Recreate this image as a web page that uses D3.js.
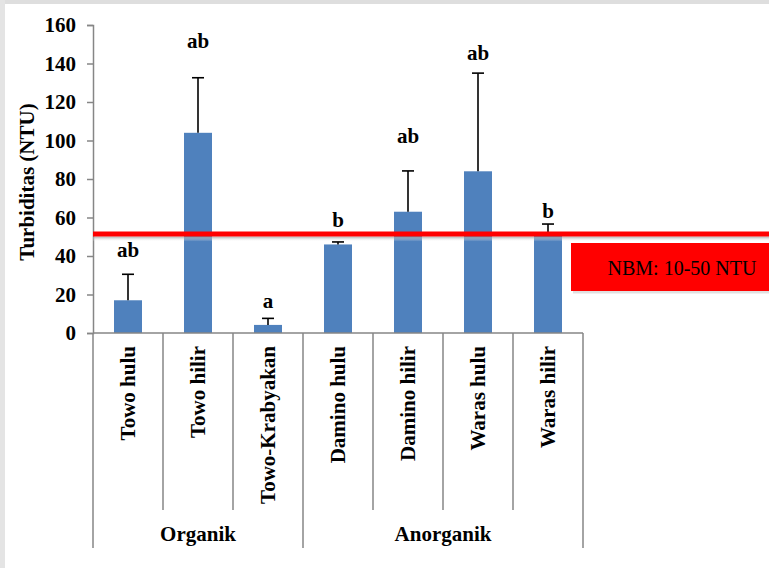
<!DOCTYPE html>
<html>
<head>
<meta charset="utf-8">
<script src="https://cdn.jsdelivr.net/npm/d3@7"></script>
<style>
  html, body { margin: 0; padding: 0; background: #fff; }
  svg { display: block; }
  text { font-family: "Liberation Serif", "Times New Roman", serif; }
</style>
</head>
<body>
<svg id="chart" width="769" height="568"></svg>
<script>
// Stations, grouped by farming type
const categories = ["Towo hulu", "Towo hilir", "Towo-Krabyakan", "Damino hulu", "Damino hilir", "Waras hulu", "Waras hilir"];
const groups = ["Organik", "Organik", "Organik", "Anorganik", "Anorganik", "Anorganik", "Anorganik"];
// Mean turbidity (NTU) and upper error (mean + SD)
const means = [17, 104, 4.2, 46, 63, 84, 52];
const errTops = [30.5, 132.6, 7.6, 47.3, 84.2, 135, 56.6];
// Significance letters and the level (NTU) at which each one sits
const letters = ["ab", "ab", "a", "b", "ab", "ab", "b"];
const letterLevel = [39.5, 148, 13, 55, 98.5, 142, 59.7];
const yTicks = [0, 20, 40, 60, 80, 100, 120, 140, 160];
// Quality standard line
const standardLevel = 51.4;
const standardLabel = "NBM: 10-50 NTU";

const svg = d3.select("#chart");
const axisColor = "#868686";
const barColor = "#4F81BD";
const serif = "Liberation Serif, Times New Roman, serif";

// faint background edges
svg.append("rect").attr("x", 0).attr("y", 0).attr("width", 769).attr("height", 4).attr("fill", "#dedede");
svg.append("rect").attr("x", 0).attr("y", 0).attr("width", 5).attr("height", 568).attr("fill", "#e4e4e4");

const plotLeft = 93, plotRight = 583, plotTop = 25, plotBottom = 333;
const y = d3.scaleLinear().domain([0, 160]).range([plotBottom, plotTop]);
const x = d3.scaleBand().domain(categories).range([plotLeft, plotRight]).paddingInner(0.6).paddingOuter(0.3);
const step = x.step();

// Y axis
const yAxis = svg.append("g")
  .attr("transform", `translate(${plotLeft},0)`)
  .call(d3.axisLeft(y).tickValues(yTicks).tickSize(6).tickPadding(11).tickFormat(d3.format("d")));
yAxis.attr("font-family", serif);
yAxis.select(".domain").attr("stroke", axisColor).attr("stroke-width", 1.5);
yAxis.selectAll(".tick line").attr("stroke", axisColor).attr("stroke-width", 1.5);
yAxis.selectAll(".tick text")
  .attr("font-size", 21).attr("font-weight", "bold").attr("fill", "#000");

svg.append("text")
  .attr("transform", "translate(27,182) rotate(-90)")
  .attr("text-anchor", "middle").attr("dy", "0.35em")
  .attr("font-family", serif)
  .attr("font-size", 21).attr("font-weight", "bold")
  .text("Turbiditas (NTU)");

// Bars
svg.append("g").selectAll("rect").data(categories).join("rect")
  .attr("x", d => x(d))
  .attr("width", x.bandwidth())
  .attr("y", (d, i) => y(means[i]))
  .attr("height", (d, i) => y(0) - y(means[i]))
  .attr("fill", barColor);

// Error bars (upper only)
const eb = svg.append("g").attr("stroke", "#000").attr("stroke-width", 1.6);
categories.forEach((c, i) => {
  const cx = x(c) + x.bandwidth() / 2;
  eb.append("line").attr("x1", cx).attr("x2", cx).attr("y1", y(means[i])).attr("y2", y(errTops[i]));
  eb.append("line").attr("x1", cx - 6).attr("x2", cx + 6).attr("y1", y(errTops[i])).attr("y2", y(errTops[i]));
});

// Significance letters
svg.append("g").selectAll("text").data(categories).join("text")
  .attr("x", d => x(d) + x.bandwidth() / 2)
  .attr("y", (d, i) => y(letterLevel[i]))
  .attr("text-anchor", "middle")
  .attr("font-size", 21).attr("font-weight", "bold")
  .text((d, i) => letters[i]);

// X axis with two-level category labels
const xa = svg.append("g").attr("stroke", axisColor).attr("stroke-width", 1.5);
xa.append("line").attr("x1", plotLeft).attr("x2", plotRight).attr("y1", plotBottom).attr("y2", plotBottom);
const boundaries = d3.range(categories.length + 1).map(k => plotLeft + k * step);
boundaries.forEach((bx, k) => {
  const isGroupEdge = k === 0 || k === categories.length || groups[k] !== groups[k - 1];
  xa.append("line").attr("x1", bx).attr("x2", bx).attr("y1", plotBottom).attr("y2", isGroupEdge ? 548 : 510);
});

svg.append("g").selectAll("text").data(categories).join("text")
  .attr("transform", d => `translate(${x(d) + x.bandwidth() / 2},346) rotate(-90)`)
  .attr("text-anchor", "end").attr("dy", "0.35em")
  .attr("font-size", 21).attr("font-weight", "bold")
  .text(d => d);

const groupNames = Array.from(new Set(groups));
groupNames.forEach(g => {
  const idx = categories.filter((c, i) => groups[i] === g);
  const x0 = x(idx[0]) - (step - x.bandwidth()) / 2;
  const x1 = x(idx[idx.length - 1]) + x.bandwidth() + (step - x.bandwidth()) / 2;
  svg.append("text")
    .attr("x", (x0 + x1) / 2).attr("y", 541)
    .attr("text-anchor", "middle")
    .attr("font-size", 21).attr("font-weight", "bold")
    .text(g);
});

// Standard line with drop shadow
const defs = svg.append("defs");
const grad = defs.append("linearGradient").attr("id", "shade").attr("x1", 0).attr("y1", 0).attr("x2", 0).attr("y2", 1);
grad.append("stop").attr("offset", "0%").attr("stop-color", "#9a9a9a").attr("stop-opacity", 0.8);
grad.append("stop").attr("offset", "100%").attr("stop-color", "#ffffff").attr("stop-opacity", 0);
const ly = y(standardLevel);
svg.append("rect").attr("x", plotLeft).attr("y", ly + 2.5).attr("width", 769 - plotLeft).attr("height", 5).attr("fill", "url(#shade)");
svg.append("line").attr("x1", plotLeft).attr("x2", 769).attr("y1", ly).attr("y2", ly)
  .attr("stroke", "#ff0000").attr("stroke-width", 5);

// Standard label box
svg.append("rect").attr("x", 572).attr("y", 244).attr("width", 200).attr("height", 48)
  .attr("fill", "#000").attr("opacity", 0.12).attr("transform", "translate(1,1.5)");
svg.append("rect").attr("x", 571).attr("y", 243).attr("width", 200).attr("height", 48).attr("fill", "#ff0000");
svg.append("text").attr("x", 682).attr("y", 275).attr("text-anchor", "middle")
  .attr("font-size", 20).attr("fill", "#000")
  .text(standardLabel);
</script>
</body>
</html>
